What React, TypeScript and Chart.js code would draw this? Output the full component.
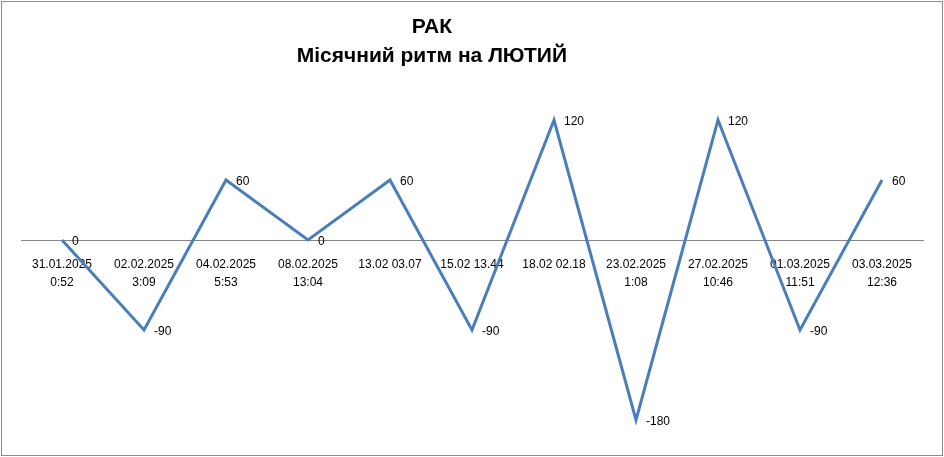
import React, { useEffect, useRef } from "react";
import { Chart, registerables } from "chart.js";

Chart.register(...registerables);

const dates = [
  "31.01.2025", "02.02.2025", "04.02.2025", "08.02.2025", "13.02 03.07", "15.02 13.44",
  "18.02 02.18", "23.02.2025", "27.02.2025", "01.03.2025", "03.03.2025",
];
const times = ["0:52", "3:09", "5:53", "13:04", "", "", "", "1:08", "10:46", "11:51", "12:36"];
const values = [0, -90, 60, 0, 60, -90, 120, -180, 120, -90, 60];
const titleLines = ["РАК", "Місячний ритм на ЛЮТИЙ"];

const FONT = '"Liberation Sans", Arial, sans-serif';

const dataLabelPlugin = {
  id: "dataLabels",
  afterDatasetsDraw(chart: any) {
    const ctx = chart.ctx;
    const meta = chart.getDatasetMeta(0);
    ctx.save();
    ctx.font = `12px ${FONT}`;
    ctx.fillStyle = "#000";
    ctx.textAlign = "left";
    ctx.textBaseline = "middle";
    meta.data.forEach((pt: any, i: number) => {
      ctx.fillText(String(values[i]), pt.x + 10, pt.y + 2);
    });
    ctx.restore();
  },
};

const titlePlugin = {
  id: "customTitle",
  afterDraw(chart: any) {
    const ctx = chart.ctx;
    ctx.save();
    ctx.font = `bold 21px ${FONT}`;
    ctx.fillStyle = "#000";
    ctx.textAlign = "center";
    ctx.textBaseline = "middle";
    const cx = chart.width * 0.4575;
    titleLines.forEach((line, i) => {
      ctx.fillText(line, cx, 27 + i * 29);
    });
    ctx.restore();
  },
};

const framePlugin = {
  id: "frame",
  afterDraw(chart: any) {
    const ctx = chart.ctx;
    ctx.save();
    ctx.strokeStyle = "#8c8c8c";
    ctx.lineWidth = 1;
    ctx.strokeRect(1.5, 1.5, chart.width - 3, chart.height - 3);
    ctx.restore();
  },
};

export default function App() {
  const ref = useRef<HTMLCanvasElement>(null);
  useEffect(() => {
    if (!ref.current) return;
    const labels = dates.map((d, i) => (times[i] ? [d, times[i]] : [d]));
    const chart = new Chart(ref.current, {
      type: "line",
      data: {
        labels,
        datasets: [
          {
            data: values,
            borderColor: "#4A7EBB",
            backgroundColor: "#4A7EBB",
            borderWidth: 3,
            pointRadius: 0,
            tension: 0,
            fill: false,
          },
        ],
      },
      options: {
        animation: false,
        responsive: false,
        maintainAspectRatio: false,
        devicePixelRatio: 1,
        layout: { padding: { left: 21, right: 21, top: 90, bottom: 17 } },
        plugins: {
          legend: { display: false },
          tooltip: { enabled: false },
          title: { display: false },
        },
        scales: {
          x: {
            type: "category",
            position: { y: 0 } as any,
            offset: true,
            grid: { display: false },
            border: { display: true, color: "#868686", width: 1 },
            ticks: {
              color: "#000",
              font: { family: FONT, size: 12, lineHeight: 1.5 },
              padding: 8,
              maxRotation: 0,
              autoSkip: false,
            },
          },
          y: {
            display: false,
            min: -200,
            max: 150,
          },
        },
      },
      plugins: [dataLabelPlugin, titlePlugin, framePlugin],
    });
    return () => chart.destroy();
  }, []);
  return (
    <div style={{ position: "fixed", left: 0, top: 0, width: 944, height: 457, background: "#fff" }}>
      <canvas ref={ref} width={944} height={457} style={{ width: 944, height: 457, display: "block" }} />
    </div>
  );
}
